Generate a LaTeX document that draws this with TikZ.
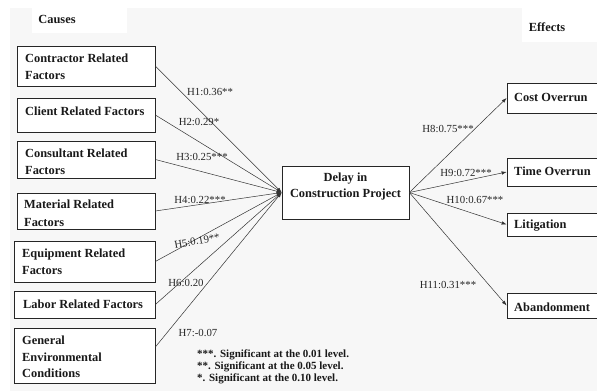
\documentclass[tikz,border=0pt]{standalone}
\usepackage{fontspec}
\setmainfont{Liberation Serif}
\usetikzlibrary{arrows.meta}
\begin{document}
\begin{tikzpicture}[x=1pt,y=-1pt,
  box/.style={draw=black!85, line width=0.7pt, fill=white, inner sep=0pt},
  txt/.style={font=\fontsize{12.4}{17.5}\selectfont\bfseries, align=left, anchor=west, inner sep=0pt, text=black!90},
  hl/.style={font=\fontsize{10.8}{12}\selectfont, inner sep=0pt, text=black!85},
  leg/.style={font=\fontsize{11}{12.5}\selectfont\bfseries, align=left, anchor=west, inner sep=0pt, text=black!90},
  arr/.style={-{Latex[length=5pt,width=3.5pt]}, draw=black!80, line width=0.5pt}]
\useasboundingbox (0,0) rectangle (597,391);
\clip (0,0) rectangle (597,391);
\fill[white] (0,0) rectangle (597,391);
\fill[gray!6] (10,8) rectangle (597,391);
\fill[white] (32,8) rectangle (127,33);
\fill[white] (522,8) rectangle (597,42);
\node[txt, anchor=center] (causes) at (57,19) {Causes};
\node[txt, anchor=center] (effects) at (547,27) {Effects};

% cause boxes
\node[box, minimum width=138pt, minimum height=40pt] (b1) at (86,66) {};
\node[box, minimum width=138pt, minimum height=34pt] (b2) at (86,115) {};
\node[box, minimum width=138pt, minimum height=37pt] (b3) at (86,159.5) {};
\node[box, minimum width=138pt, minimum height=36pt] (b4) at (86,211) {};
\node[box, minimum width=141pt, minimum height=41pt] (b5) at (84.5,261.5) {};
\node[box, minimum width=141pt, minimum height=27pt] (b6) at (84.5,304.5) {};
\node[box, minimum width=141pt, minimum height=55pt] (b7) at (84.5,355.5) {};
\node[txt] (t1) at (25,67) {Contractor Related\\Factors};
\node[txt] (t2) at (25,111) {Client Related Factors};
\node[txt] (t3) at (25,162) {Consultant Related\\Factors};
\node[txt] (t4) at (24,213.5) {Material Related\\Factors};
\node[txt] (t5) at (22,262) {Equipment Related\\Factors};
\node[txt] (t6) at (23,304) {Labor Related Factors};
\node[txt, font=\fontsize{12.4}{16.5}\selectfont\bfseries] (t7) at (22,357) {General\\Environmental\\Conditions};

% central box
\node[box, minimum width=127pt, minimum height=53pt] (c) at (345.5,192.5) {};
\node[txt, anchor=center, align=center, font=\fontsize{12.4}{16}\selectfont\bfseries] (ct) at (345.5,187) {Delay in\\Construction Project};

% effect boxes
\node[box, minimum width=93pt, minimum height=30pt] (r1) at (553.5,98) {};
\node[box, minimum width=93pt, minimum height=28pt] (r2) at (553.5,172) {};
\node[box, minimum width=93pt, minimum height=23pt] (r3) at (553.5,224.5) {};
\node[box, minimum width=93pt, minimum height=25pt] (r4) at (553.5,305.5) {};
\node[txt] (rt1) at (514,97) {Cost Overrun};
\node[txt] (rt2) at (514,171) {Time Overrun};
\node[txt] (rt3) at (514,226) {Litigation};
\node[txt] (rt4) at (514,307) {Abandonment};

% connectors
\draw[arr] (b1.east) -- (c.west);
\draw[arr] (b2.east) -- (c.west);
\draw[arr] (b3.east) -- (c.west);
\draw[arr] (b4.east) -- (c.west);
\draw[arr] (b5.east) -- (c.west);
\draw[arr] (b6.east) -- (c.west);
\draw[arr] ([yshift=8.5pt]b7.east) -- (c.west);
\draw[arr] (c.east) -- (r1.west);
\draw[arr] (c.east) -- (r2.west);
\draw[arr] (c.east) -- (r3.west);
\draw[arr] (c.east) -- (r4.west);

% path labels
\node[hl] (h1) at (210,92) {H1:0.36**};
\node[hl] (h2) at (199,122) {H2:0.29*};
\node[hl] (h3) at (202,157) {H3:0.25***};
\node[hl] (h4) at (200,200) {H4:0.22***};
\node[hl, rotate=10] (h5) at (197,241) {H5:0.19**};
\node[hl] (h6) at (186,283) {H6:0.20};
\node[hl] (h7) at (198,333) {H7:-0.07};
\node[hl] (h8) at (448,129) {H8:0.75***};
\node[hl] (h9) at (466,173) {H9:0.72***};
\node[hl] (h10) at (475,200) {H10:0.67***};
\node[hl] (h11) at (448,285) {H11:0.31***};

% legend
\node[leg] (l1) at (197,355) {***. Significant at the 0.01 level.};
\node[leg] (l2) at (197,367) {**. Significant at the 0.05 level.};
\node[leg] (l3) at (197,379) {*. Significant at the 0.10 level.};
\end{tikzpicture}
\end{document}
